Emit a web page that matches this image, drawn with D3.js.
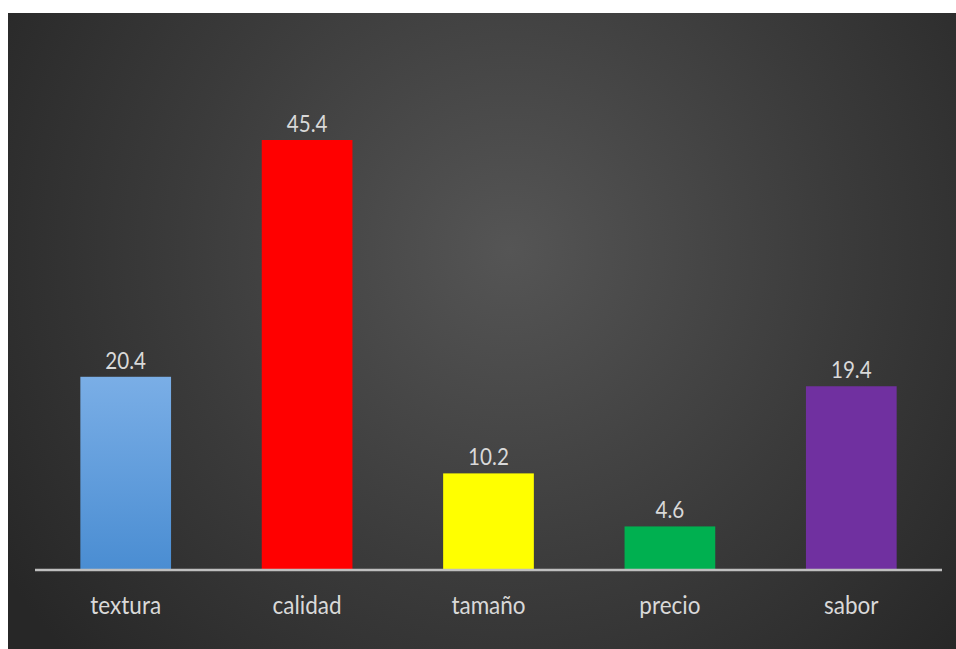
<!DOCTYPE html>
<html>
<head>
<meta charset="utf-8">
<script src="https://cdn.jsdelivr.net/npm/d3@7"></script>
<style>
  html, body { margin: 0; padding: 0; background: #ffffff; }
  svg { display: block; }
</style>
</head>
<body>
<svg id="chart" width="956" height="649"></svg>
<script>
// Survey results by attribute
const categories = ["textura", "calidad", "tamaño", "precio", "sabor"];
const values = [20.4, 45.4, 10.2, 4.6, 19.4];
const barColors = ["#5b9bd5", "#ff0000", "#ffff00", "#00b050", "#7030a0"];

const W = 956, H = 649;
const panel = { x: 8, y: 13 };
const baseY = 570;

const svg = d3.select("#chart");
const defs = svg.append("defs");

// dark radial backdrop
const bg = defs.append("radialGradient")
  .attr("id", "bgGrad")
  .attr("gradientUnits", "userSpaceOnUse")
  .attr("cx", 510).attr("cy", 250).attr("r", 600);
bg.append("stop").attr("offset", 0).attr("stop-color", "#555555");
bg.append("stop").attr("offset", 0.55).attr("stop-color", "#3b3b3b");
bg.append("stop").attr("offset", 1).attr("stop-color", "#272727");

// light-to-mid blue fill for the first bar
const blue = defs.append("linearGradient")
  .attr("id", "blueGrad").attr("x1", 0).attr("y1", 0).attr("x2", 0).attr("y2", 1);
blue.append("stop").attr("offset", 0).attr("stop-color", "#7aaee6");
blue.append("stop").attr("offset", 1).attr("stop-color", "#4a8dd2");

svg.append("rect")
  .attr("x", panel.x).attr("y", panel.y)
  .attr("width", W - panel.x).attr("height", H - panel.y)
  .attr("fill", "url(#bgGrad)");

const x = d3.scaleBand()
  .domain(categories)
  .range([35, 942])
  .paddingInner(0.5)
  .paddingOuter(0.25);

const y = d3.scaleLinear()
  .domain([0, 45.4])
  .range([baseY, 140]);

const data = categories.map((c, i) => ({ c, v: values[i], col: barColors[i] }));

svg.append("g").selectAll("rect")
  .data(data)
  .join("rect")
  .attr("x", d => x(d.c))
  .attr("y", d => y(d.v))
  .attr("width", x.bandwidth())
  .attr("height", d => y(0) - y(d.v))
  .attr("fill", (d, i) => i === 0 ? "url(#blueGrad)" : d.col);

// category axis
const axis = svg.append("g")
  .attr("transform", `translate(0,${baseY})`)
  .call(d3.axisBottom(x).tickSize(0).tickPadding(0));
axis.select(".domain")
  .attr("d", "M35,0H942")
  .attr("stroke", "#bfbfbf")
  .attr("stroke-width", 2.5);
axis.selectAll(".tick text")
  .attr("y", null)
  .attr("dy", null)
  .attr("transform", "translate(0,44) scale(0.9,1)")
  .attr("fill", "#d9d9d9")
  .style("font-family", "Lato, 'Open Sans', sans-serif")
  .style("font-size", "25px");

// value labels above bars
svg.append("g").selectAll("text")
  .data(data)
  .join("text")
  .attr("transform", d => `translate(${x(d.c) + x.bandwidth() / 2},${y(d.v) - 8}) scale(0.86,1)`)
  .attr("text-anchor", "middle")
  .attr("fill", "#d9d9d9")
  .style("font-family", "Lato, 'Open Sans', sans-serif")
  .style("font-size", "24px")
  .text(d => d.v.toFixed(1));
</script>
</body>
</html>
